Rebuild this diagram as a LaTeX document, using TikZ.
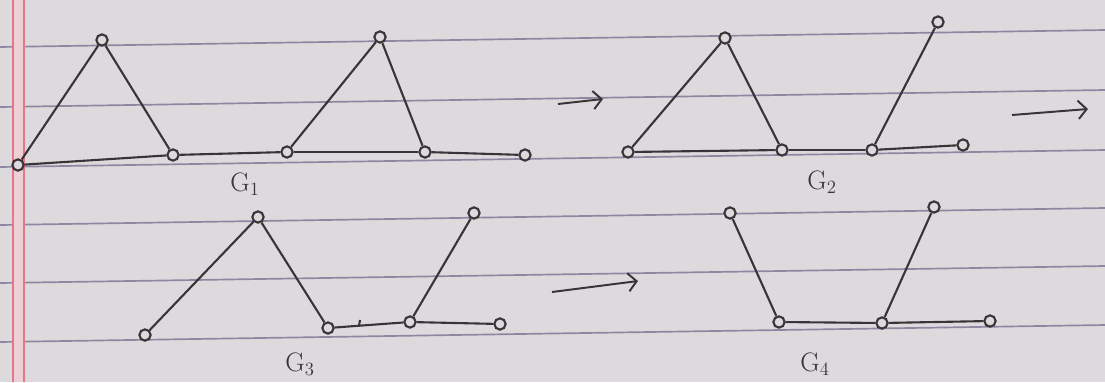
\documentclass[tikz,border=0pt]{standalone}
\usetikzlibrary{arrows.meta}
\definecolor{paper}{HTML}{DDDADE}
\definecolor{rulecol}{HTML}{8F86A2}
\definecolor{margincol}{HTML}{E07A88}
\definecolor{marginfill}{HTML}{EFCFD6}
\definecolor{ink}{HTML}{3A3438}
\begin{document}
\begin{tikzpicture}[x=0.025cm,y=-0.025cm,
  vtx/.style={circle,draw=ink,line width=1.5pt,inner sep=0pt,minimum size=8pt,fill=paper},
  edge/.style={draw=ink,line width=1.5pt},
  lbl/.style={text=ink,font=\fontsize{19}{22}\selectfont},
  arr/.style={draw=ink,line width=1.4pt,-{Straight Barb[length=6pt,width=13pt]}},
  ruled/.style={draw=rulecol,line width=1.2pt}]
\useasboundingbox (0,0) rectangle (1105,382);
\fill[paper] (0,0) rectangle (1105,382);
% ruled lines
\foreach \l/\r in {47/30,107/90,167/150,225/208,283/266,342/325}
  \draw[ruled] (0,\l) -- (1105,\r);
% margin
\fill[marginfill] (13,0) rectangle (24,382);
\draw[margincol,line width=1pt] (13,0) -- (13,382);
\draw[margincol,line width=1pt] (24,0) -- (24,382);

% G1
\node[vtx] (a1) at (18,165) {};
\node[vtx] (a2) at (102,40) {};
\node[vtx] (a3) at (173,155) {};
\node[vtx] (a4) at (287,152) {};
\node[vtx] (a5) at (380,37) {};
\node[vtx] (a6) at (425,152) {};
\node[vtx] (a7) at (525,155) {};
\draw[edge] (a1) -- (a2);
\draw[edge] (a2) -- (a3);
\draw[edge] (a1) -- (a3);
\draw[edge] (a3) -- (a4);
\draw[edge] (a4) -- (a5);
\draw[edge] (a5) -- (a6);
\draw[edge] (a4) -- (a6);
\draw[edge] (a6) -- (a7);
\node[lbl] (g1) at (245,184) {G\textsubscript{1}};

% arrow 1
\coordinate (p1s) at (558,104);
\coordinate (p1e) at (603,99);
\draw[arr] (p1s) -- (p1e);

% G2
\node[vtx] (b1) at (628,152) {};
\node[vtx] (b2) at (725,38) {};
\node[vtx] (b3) at (782,150) {};
\node[vtx] (b4) at (872,150) {};
\node[vtx] (b5) at (938,22) {};
\node[vtx] (b6) at (963,145) {};
\draw[edge] (b1) -- (b2);
\draw[edge] (b2) -- (b3);
\draw[edge] (b1) -- (b3);
\draw[edge] (b3) -- (b4);
\draw[edge] (b4) -- (b5);
\draw[edge] (b4) -- (b6);
\node[lbl] (g2) at (822,182) {G\textsubscript{2}};

% arrow 2
\coordinate (p2s) at (1012,115);
\coordinate (p2e) at (1088,109);
\draw[arr] (p2s) -- (p2e);

% G3
\node[vtx] (c1) at (145,335) {};
\node[vtx] (c2) at (258,217) {};
\node[vtx] (c3) at (328,328) {};
\node[vtx] (c4) at (410,322) {};
\node[vtx] (c5) at (474,213) {};
\node[vtx] (c6) at (500,324) {};
\draw[edge] (c1) -- (c2);
\draw[edge] (c2) -- (c3);
\draw[edge] (c3) -- (c4);
\draw[edge] (c4) -- (c5);
\draw[edge] (c4) -- (c6);
\coordinate (t1) at (359,326);
\coordinate (t2) at (360,320);
\draw[edge] (t1) -- (t2);
\node[lbl] (g3) at (300,364) {G\textsubscript{3}};

% arrow 3
\coordinate (p3s) at (552,292);
\coordinate (p3e) at (638,281);
\draw[arr] (p3s) -- (p3e);

% G4
\node[vtx] (d1) at (730,213) {};
\node[vtx] (d2) at (779,322) {};
\node[vtx] (d3) at (882,323) {};
\node[vtx] (d4) at (934,207) {};
\node[vtx] (d5) at (990,321) {};
\draw[edge] (d1) -- (d2);
\draw[edge] (d2) -- (d3);
\draw[edge] (d3) -- (d4);
\draw[edge] (d3) -- (d5);
\node[lbl] (g4) at (815,364) {G\textsubscript{4}};
\end{tikzpicture}
\end{document}
